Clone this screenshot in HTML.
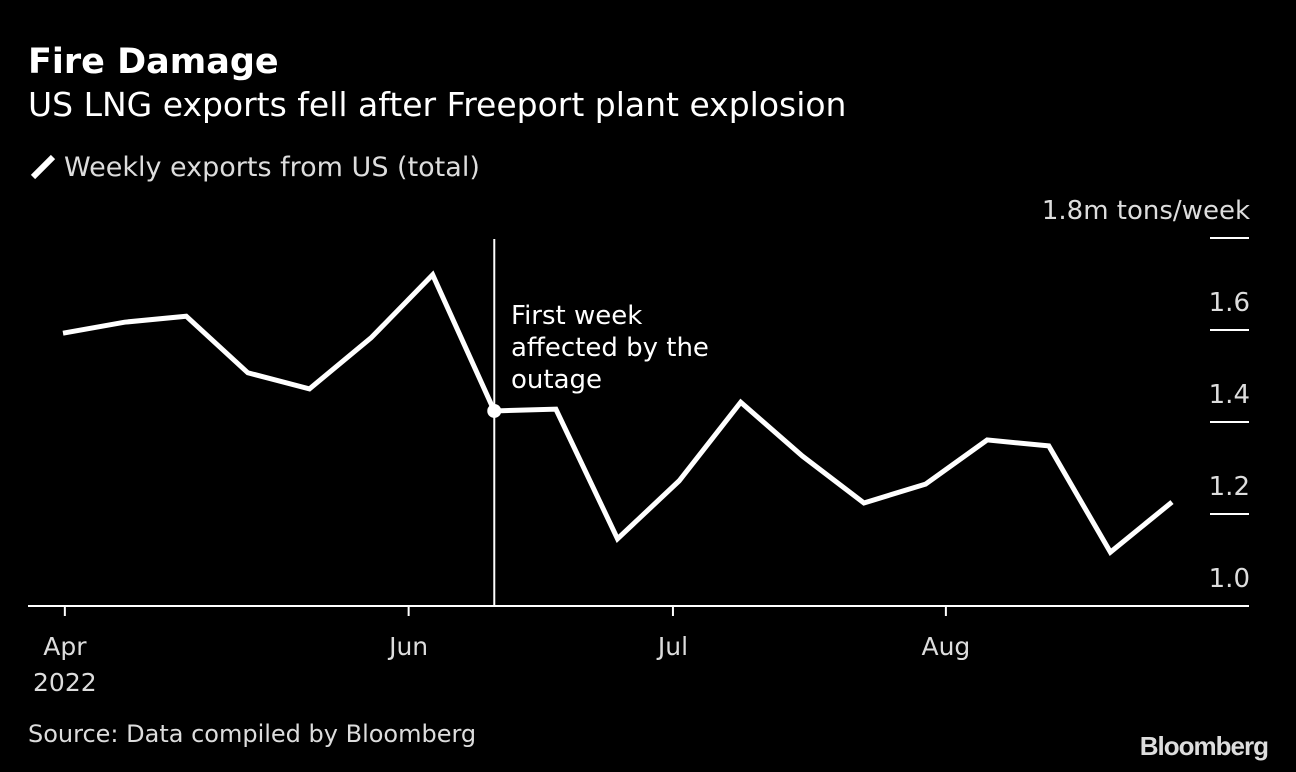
<!DOCTYPE html>
<html><head><meta charset="utf-8"><style>
body{margin:0;background:#000;width:1296px;height:772px;overflow:hidden;font-family:"DejaVu Sans","Liberation Sans",sans-serif;color:#fff}
.t{position:absolute;white-space:nowrap}
</style></head><body>
<div class="t" style="left:28px;top:40px;font-size:35px;font-weight:bold;line-height:44px">Fire Damage</div>
<div class="t" style="left:28px;top:83px;font-size:33px;line-height:44px">US LNG exports fell after Freeport plant explosion</div>
<div class="t" style="left:30px;top:152px;font-size:27px;line-height:32px;color:#ddd"><svg width="26" height="26" style="vertical-align:-4px;margin-right:8px"><line x1="3" y1="23" x2="23" y2="3" stroke="#fff" stroke-width="6"/></svg>Weekly exports from US (total)</div>
<div class="t" style="left:28px;top:718px;font-size:24px;line-height:32px;color:#ddd">Source: Data compiled by Bloomberg</div>
<div class="t" style="right:28px;top:730px;font-size:26px;font-weight:bold;line-height:32px;color:#ddd;font-family:'Liberation Sans',sans-serif;letter-spacing:-1px">Bloomberg</div>
<svg id="c" width="1296" height="772" style="position:absolute;left:0;top:0"></svg>
<script>
const values=[1.593,1.617,1.630,1.507,1.472,1.583,1.720,1.424,1.428,1.146,1.272,1.443,1.326,1.224,1.265,1.361,1.348,1.117,1.226];
const yTicks=[1.0,1.2,1.4,1.6,1.8];
const yLabels=["1.0","1.2","1.4","1.6","1.8m tons/week"];
const xTickPos=[0.03,5.61,9.9,14.33];
const xLabels=["Apr","Jun","Jul","Aug"];
const eventIndex=7;
const NS="http://www.w3.org/2000/svg";
const svg=document.getElementById('c');
const X=i=>63+i*(1172-63)/(values.length-1);
const Y=v=>606-(v-1)*460;
function mk(t,a){const e=document.createElementNS(NS,t);for(const k in a)e.setAttribute(k,a[k]);svg.appendChild(e);return e;}
yTicks.forEach((v,i)=>{
  if(i>0){const l=mk('line',{x1:1210,x2:1249,y1:Y(v),y2:Y(v),stroke:'#fff','stroke-width':2});
  
  }
  const t=mk('text',{x:1250,y:Y(v)-19,'text-anchor':'end',fill:'#ddd','font-size':26,'font-family':'DejaVu Sans,sans-serif'});
  t.textContent=yLabels[i];
  
  
});
const base=mk('line',{x1:28,x2:1249,y1:606,y2:606,stroke:'#fff','stroke-width':2});


xTickPos.forEach((p,i)=>{
  const l=mk('line',{x1:X(p),x2:X(p),y1:606,y2:616,stroke:'#fff','stroke-width':2});
  
  
  const t=mk('text',{x:X(p),y:655,'text-anchor':'middle',fill:'#ddd','font-size':25,'font-family':'DejaVu Sans,sans-serif'});
  t.textContent=xLabels[i];
  
  
});
const yr=mk('text',{x:X(xTickPos[0]),y:691,'text-anchor':'middle',fill:'#ddd','font-size':25,'font-family':'DejaVu Sans,sans-serif'});
yr.textContent="2022";


const ev=mk('line',{x1:X(eventIndex),x2:X(eventIndex),y1:239,y2:606,stroke:'#fff','stroke-width':2});


const pl=mk('polyline',{points:values.map((v,i)=>X(i)+','+Y(v)).join(' '),fill:'none',stroke:'#fff','stroke-width':5,'stroke-linejoin':'miter'});


const dot=mk('circle',{cx:X(eventIndex),cy:Y(values[eventIndex]),r:7,fill:'#fff'});


["First week","affected by the","outage"].forEach((s,i)=>{
  const t=mk('text',{x:511,y:324+i*32,fill:'#fff','font-size':26,'font-family':'DejaVu Sans,sans-serif'});
  t.textContent=s;
  
  
});
</script>
</body></html>
